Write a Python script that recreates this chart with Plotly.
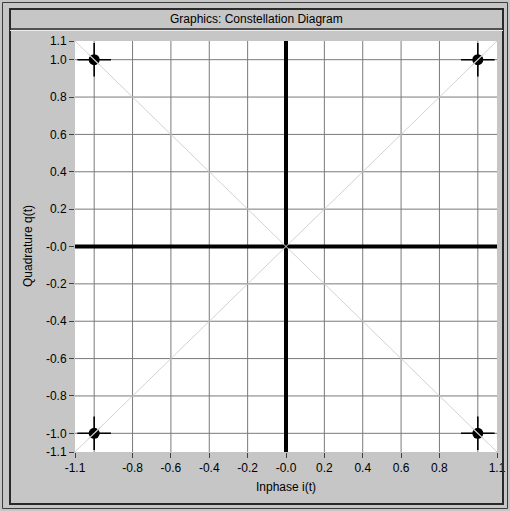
import plotly.graph_objects as go

# Constellation points (QPSK)
i_vals = [-1.0, 1.0, -1.0, 1.0]
q_vals = [1.0, 1.0, -1.0, -1.0]

# Axis range, tick positions and labels
axis_min, axis_max = -1.1, 1.1
x_ticks = [-1.1, -0.8, -0.6, -0.4, -0.2, 0.0, 0.2, 0.4, 0.6, 0.8, 1.1]
x_labels = ["-1.1", "-0.8", "-0.6", "-0.4", "-0.2", "-0.0", "0.2", "0.4", "0.6", "0.8", "1.1"]
y_ticks = [1.1, 1.0, 0.8, 0.6, 0.4, 0.2, 0.0, -0.2, -0.4, -0.6, -0.8, -1.0, -1.1]
y_labels = ["1.1", "1.0", "0.8", "0.6", "0.4", "0.2", "-0.0", "-0.2", "-0.4", "-0.6", "-0.8", "-1.0", "-1.1"]
grid_vals = [-1.0, -0.8, -0.6, -0.4, -0.2, 0.2, 0.4, 0.6, 0.8, 1.0]

W, H = 510, 511
L, R, T, B = 75, 13, 41, 59
PW, PH = W - L - R, H - T - B

def px(xp):
    return (xp - L) / PW

def py(yp):
    return (H - B - yp) / PH

PANEL = "#c6c6c6"
FONT = "Liberation Sans"

fig = go.Figure()

# light diagonals through the origin
fig.add_trace(go.Scatter(x=[axis_min, axis_max], y=[axis_min, axis_max], mode="lines",
                         line=dict(color="#d2d2d2", width=1), hoverinfo="skip", showlegend=False))
fig.add_trace(go.Scatter(x=[axis_min, axis_max], y=[axis_max, axis_min], mode="lines",
                         line=dict(color="#d2d2d2", width=1), hoverinfo="skip", showlegend=False))

# symbol crosshair + dots
fig.add_trace(go.Scatter(x=i_vals, y=q_vals, mode="markers",
                         marker=dict(symbol="cross-thin", size=24, line=dict(color="black", width=1.6)),
                         hoverinfo="skip", showlegend=False))
fig.add_trace(go.Scatter(x=i_vals, y=q_vals, mode="markers",
                         marker=dict(symbol="circle", size=11, color="black"),
                         showlegend=False))
# slash of the diagonal visible across each dot
fig.add_trace(go.Scatter(x=[-1.03, -0.97, None, 0.97, 1.03, None, -1.03, -0.97, None, 0.97, 1.03],
                         y=[1.03, 0.97, None, 0.97, 1.03, None, -1.03, -0.97, None, -0.97, -1.03],
                         mode="lines", line=dict(color="#d8d8d8", width=1.2),
                         hoverinfo="skip", showlegend=False))

shapes = []
# grid lines
for g in grid_vals:
    shapes.append(dict(type="line", xref="x", yref="y", x0=g, x1=g, y0=axis_min, y1=axis_max,
                       line=dict(color="#7a7a7a", width=1), layer="below"))
    shapes.append(dict(type="line", xref="x", yref="y", x0=axis_min, x1=axis_max, y0=g, y1=g,
                       line=dict(color="#7a7a7a", width=1), layer="below"))
# heavy zero axes
shapes.append(dict(type="line", xref="x", yref="y", x0=0, x1=0, y0=axis_min, y1=axis_max,
                   line=dict(color="black", width=4), layer="below"))
shapes.append(dict(type="line", xref="x", yref="y", x0=axis_min, x1=axis_max, y0=0, y1=0,
                   line=dict(color="black", width=4), layer="below"))

# window frames
shapes.append(dict(type="rect", xref="paper", yref="paper", x0=px(2.5), x1=px(507.5), y0=py(508.5), y1=py(2.5),
                   line=dict(color="#3c3c3c", width=1)))
shapes.append(dict(type="rect", xref="paper", yref="paper", x0=px(10), x1=px(503), y0=py(504), y1=py(9),
                   line=dict(color="#2a2a2a", width=2)))
shapes.append(dict(type="line", xref="paper", yref="paper", x0=px(10), x1=px(503), y0=py(29), y1=py(29),
                   line=dict(color="#2a2a2a", width=1.5)))
shapes.append(dict(type="line", xref="paper", yref="paper", x0=px(10), x1=px(503), y0=py(30.5), y1=py(30.5),
                   line=dict(color="#ececec", width=1)))

fig.update_layout(
    width=W, height=H,
    margin=dict(l=L, r=R, t=T, b=B, autoexpand=False),
    paper_bgcolor=PANEL, plot_bgcolor="white",
    font=dict(family=FONT, size=12, color="black"),
    shapes=shapes,
    showlegend=False,
    annotations=[
        dict(text="Graphics: Constellation Diagram", xref="paper", yref="paper",
             x=px(256), y=py(19), showarrow=False, xanchor="center", yanchor="middle",
             font=dict(family=FONT, size=12, color="black")),
        dict(text="Inphase i(t)", xref="paper", yref="paper",
             x=px(286), y=py(487), showarrow=False, xanchor="center", yanchor="middle",
             font=dict(family=FONT, size=12, color="black")),
        dict(text="Quadrature q(t)", xref="paper", yref="paper",
             x=px(28), y=py(246), showarrow=False, xanchor="center", yanchor="middle",
             textangle=-90, font=dict(family=FONT, size=12, color="black")),
    ],
)

fig.update_xaxes(range=[axis_min, axis_max], tickvals=x_ticks, ticktext=x_labels,
                 showgrid=False, zeroline=False, ticks="outside", ticklen=5, tickwidth=1,
                 tickcolor="#404040", showline=False, fixedrange=True, automargin=False,
                 tickfont=dict(family=FONT, size=12, color="black"))
fig.update_yaxes(range=[axis_min, axis_max], tickvals=y_ticks, ticktext=y_labels,
                 showgrid=False, zeroline=False, ticks="outside", ticklen=5, tickwidth=1,
                 tickcolor="#404040", showline=False, fixedrange=True, automargin=False,
                 tickfont=dict(family=FONT, size=12, color="black"))

fig.write_html("out.html", config=dict(displayModeBar=False))
